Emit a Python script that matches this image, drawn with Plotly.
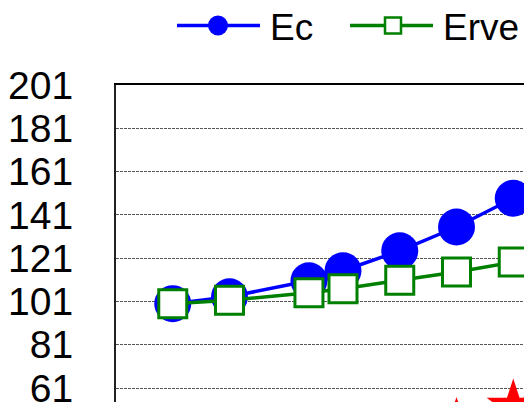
import plotly.graph_objects as go

years = [1985, 1990, 1997, 2000, 2005, 2010, 2015, 2020]
ec = [100, 103.2, 110.6, 115.2, 124.4, 135.4, 148.7, 162]
erve = [100, 101.6, 105.0, 106.9, 110.8, 114.6, 119.2, 123]
red = [None, None, None, None, None, 44, 52.5, 70]
tick_vals = [1, 21, 41, 61, 81, 101, 121, 141, 161, 181, 201]

OFF = 8  # page body margin
EXTRA = 24  # room below the visible window so the cut-off tick label is still drawn
W, H = 532 - OFF, 402 - OFF + EXTRA
ML, MT, MR, MB = 116 - OFF, 85 - OFF, 0, EXTRA
PW, PH = W - ML - MR, H - MT - MB

def px(x):
    return (x - OFF - ML) / PW

def py(y):
    return (H - MB - (y - OFF)) / PH

fig = go.Figure()
fig.add_trace(go.Scatter(x=years, y=ec, name="Ec", mode="lines+markers",
                         line=dict(color="#0000FF", width=3.5),
                         marker=dict(symbol="circle", size=37, color="#0000FF")))
fig.add_trace(go.Scatter(x=years, y=erve, name="Erve", mode="lines+markers",
                         line=dict(color="#008000", width=3.5),
                         marker=dict(symbol="square", size=28, color="white",
                                     line=dict(color="#008000", width=3))))
fig.add_trace(go.Scatter(x=years, y=red, name="", mode="lines+markers",
                         line=dict(color="#FF0000", width=3.5),
                         marker=dict(symbol="star", size=40, color="#FF0000")))

FONT = "Liberation Sans, Arial, sans-serif"
shapes = []
anns = []
# custom legend
ly = 25.5
shapes.append(dict(type="line", xref="paper", yref="paper", x0=px(177), x1=px(260),
                   y0=py(ly), y1=py(ly), line=dict(color="#0000FF", width=3.5)))
shapes.append(dict(type="circle", xref="paper", yref="paper", x0=px(208), x1=px(228),
                   y0=py(ly - 10), y1=py(ly + 10), fillcolor="#0000FF", line=dict(width=0)))
shapes.append(dict(type="line", xref="paper", yref="paper", x0=px(350), x1=px(433),
                   y0=py(ly), y1=py(ly), line=dict(color="#008000", width=3.5)))
shapes.append(dict(type="rect", xref="paper", yref="paper", x0=px(385), x1=px(401),
                   y0=py(ly - 8), y1=py(ly + 8), fillcolor="white",
                   line=dict(color="#008000", width=2.5)))
anns.append(dict(text="Ec", xref="paper", yref="paper", x=px(268), y=py(27),
                 xanchor="left", yanchor="middle", showarrow=False,
                 font=dict(family=FONT, size=37, color="black")))
anns.append(dict(text="Erve", xref="paper", yref="paper", x=px(441), y=py(27),
                 xanchor="left", yanchor="middle", showarrow=False,
                 font=dict(family=FONT, size=37, color="black")))

fig.update_layout(
    width=W, height=H,
    margin=dict(l=ML, r=MR, t=MT, b=MB, pad=0),
    paper_bgcolor="white", plot_bgcolor="white",
    showlegend=False,
    shapes=shapes, annotations=anns,
    font=dict(family=FONT, color="black"),
)
fig.update_xaxes(range=[1980, 1980 + PW / 11.35], side="top", showline=True,
                 linecolor="black", linewidth=1.5, showgrid=False,
                 showticklabels=False, ticks="", zeroline=False)
fig.update_yaxes(range=[201 - PH / 2.165, 201], tickvals=tick_vals,
                 showline=True, linecolor="#222", linewidth=2,
                 showgrid=True, gridcolor="#555", gridwidth=1, griddash="3px,1px",
                 ticks="outside", ticklen=33, tickcolor="rgba(0,0,0,0)",
                 tickfont=dict(family=FONT, size=39, color="black"), zeroline=False)

fig.write_html("out.html")
